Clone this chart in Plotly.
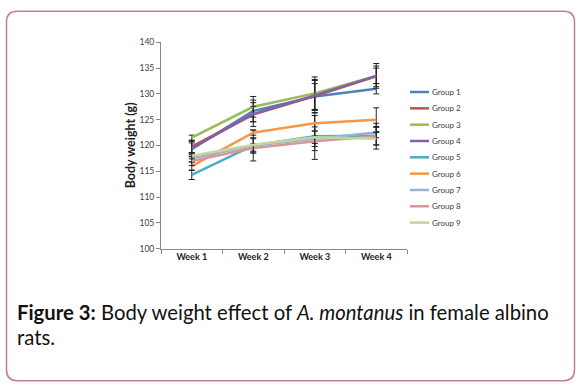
import plotly.graph_objects as go

weeks = ["Week 1", "Week 2", "Week 3", "Week 4"]
groups = ["Group 1", "Group 2", "Group 3", "Group 4", "Group 5",
          "Group 6", "Group 7", "Group 8", "Group 9"]
colors = ["#4F81BD", "#C0504D", "#9BBB59", "#8064A2", "#4BACC6",
          "#F79646", "#95B3D7", "#D99694", "#C3D69B"]

g1 = [119.3, 126.7, 129.5, 131.0]
g2 = [119.8, 126.0, 129.6, 133.4]
g3 = [121.5, 127.5, 130.1, 133.5]
g4 = [119.5, 126.1, 129.7, 133.5]
g5 = [114.3, 120.0, 121.8, 121.9]
g6 = [116.0, 122.5, 124.3, 125.0]
g7 = [117.5, 120.0, 121.3, 122.5]
g8 = [117.0, 119.5, 120.8, 121.8]
g9 = [118.0, 120.1, 121.6, 121.3]

e1 = [1.5, 2.1, 2.5, 1.0]
e2 = [1.2, 2.3, 3.2, 2.0]
e3 = [0.5, 2.0, 3.2, 2.4]
e4 = [1.0, 1.5, 2.9, 1.5]
e5 = [0.9, 3.0, 4.5, 1.8]
e6 = [0.8, 0.5, 1.5, 2.3]
e7 = [0.7, 1.5, 2.3, 1.0]
e8 = [0.9, 0.8, 1.0, 2.5]
e9 = [0.6, 1.2, 1.2, 1.2]

values = [g1, g2, g3, g4, g5, g6, g7, g8, g9]
errors = [e1, e2, e3, e4, e5, e6, e7, e8, e9]

W, H = 580, 392
FONT = "Lato"

def px(x, y):
    return x / W, 1 - y / H

fig = go.Figure()
for name, col, v, e in zip(groups, colors, values, errors):
    fig.add_trace(go.Scatter(
        x=weeks, y=v, name=name, mode="lines",
        line=dict(color=col, width=2.5),
        error_y=dict(type="data", array=e, visible=True,
                     color="#222222", thickness=1, width=3),
        showlegend=False,
    ))

fig.update_layout(
    width=W, height=H,
    margin=dict(l=0, r=0, t=0, b=0),
    paper_bgcolor="white", plot_bgcolor="white",
    font=dict(family=FONT, color="#404040"),
    showlegend=False,
    xaxis=dict(domain=[161 / W, 407 / W], type="category",
               range=[-0.5, 3.5], showline=True, linecolor="#888888",
               linewidth=1, ticks="outside", tickson="boundaries",
               ticklen=4, tickcolor="#888888", showgrid=False,
               tickvals=weeks, ticktext=[f"<b>{w}</b>" for w in weeks],
               tickfont=dict(size=9, color="#222222", family=FONT),
               zeroline=False),
    yaxis=dict(domain=[(H - 250) / H, (H - 38.3) / H], range=[100, 140],
               dtick=5, showline=True, linecolor="#888888", linewidth=1,
               ticks="outside", ticklen=4, tickcolor="#888888",
               showgrid=False, zeroline=False,
               tickfont=dict(size=8.5, color="#404040", family=FONT)),
)

# legend drawn to match the reference's compact spacing
for i, (name, col) in enumerate(zip(groups, colors)):
    yc = 89.3 + i * 16.75
    xa, ya = px(410, yc)
    xb, _ = px(429, yc)
    fig.add_shape(type="line", xref="paper", yref="paper",
                  x0=xa, x1=xb, y0=ya, y1=ya,
                  line=dict(color=col, width=2.5))
    xt, yt = px(429.5, yc)
    fig.add_annotation(x=xt, y=yt, xref="paper", yref="paper", text=name,
                       showarrow=False, xanchor="left", yanchor="middle",
                       font=dict(size=8, color="#404040", family=FONT))

ax, ay = px(130, 144)
fig.add_annotation(
    x=ax, y=ay, xref="paper", yref="paper",
    text="<b>Body weight (g)</b>", textangle=-90, showarrow=False,
    font=dict(size=12.5, color="#222222", family=FONT),
    xanchor="center", yanchor="middle")

cx, cy = px(15, 315)
fig.add_annotation(
    x=cx, y=cy, xref="paper", yref="paper",
    text="<b>Figure 3:</b> Body weight effect of <i>A. montanus</i> in female albino",
    showarrow=False, xanchor="left", yanchor="middle",
    font=dict(size=20.3, color="#111111", family=FONT))
cx2, cy2 = px(15, 341)
fig.add_annotation(
    x=cx2, y=cy2, xref="paper", yref="paper",
    text="rats.", showarrow=False, xanchor="left", yanchor="middle",
    font=dict(size=20.3, color="#111111", family=FONT))

# rounded border
r = 11
x0b, x1b, y0b, y1b = 6.5, 574.5, 6.5, 385.5
pts = [("M", x0b + r, y0b), ("L", x1b - r, y0b), ("Q", x1b, y0b), ("", x1b, y0b + r),
       ("L", x1b, y1b - r), ("Q", x1b, y1b), ("", x1b - r, y1b),
       ("L", x0b + r, y1b), ("Q", x0b, y1b), ("", x0b, y1b - r),
       ("L", x0b, y0b + r), ("Q", x0b, y0b), ("", x0b + r, y0b)]
parts = []
for cmd, a, b in pts:
    xa, ya = px(a, b)
    parts.append(f"{cmd} {xa:.5f},{ya:.5f}".strip())
path = " ".join(parts) + " Z"
fig.add_shape(type="path", path=path, xref="paper", yref="paper",
              line=dict(color="#C07CA0", width=1.5), layer="above")

fig.write_html("out.html", config={"displayModeBar": False},
               post_script="document.body.style.margin='0';document.body.style.padding='0';")
